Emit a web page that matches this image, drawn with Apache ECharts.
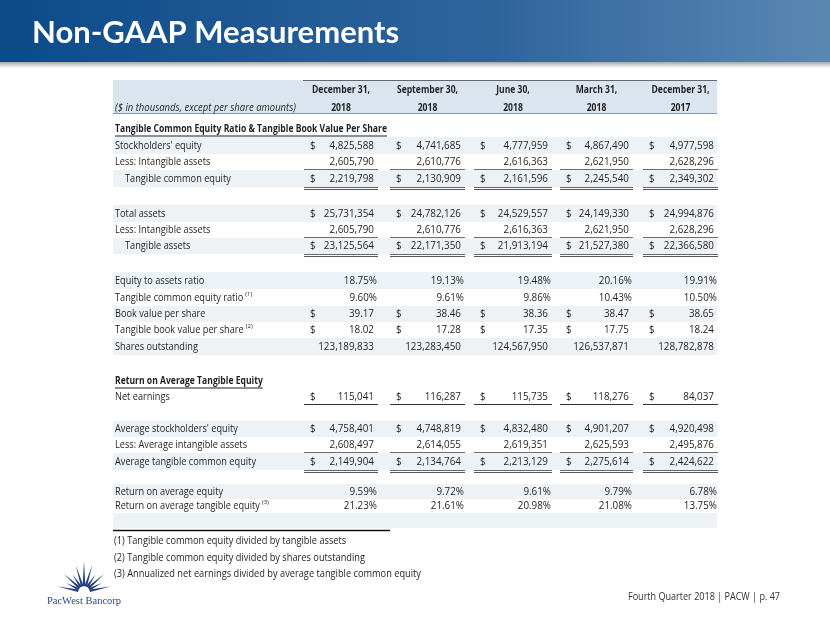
<!DOCTYPE html>
<html><head><meta charset="utf-8">
<script src="https://cdn.jsdelivr.net/npm/echarts@6/dist/echarts.min.js"></script>
<style>html,body{margin:0;padding:0;background:#fff}#c{width:830px;height:623px}</style>
</head><body><div id="c"></div>
<script>
// ---------------- DATA ----------------
const periods = ['December 31,', 'September 30,', 'June 30,', 'March 31,', 'December 31,'];
const years = ['2018', '2018', '2018', '2018', '2017'];
const stockholdersEquity = [4825588, 4741685, 4777959, 4867490, 4977598];
const intangibleAssets = [2605790, 2610776, 2616363, 2621950, 2628296];
const tangibleCommonEquity = [2219798, 2130909, 2161596, 2245540, 2349302];
const totalAssets = [25731354, 24782126, 24529557, 24149330, 24994876];
const tangibleAssets = [23125564, 22171350, 21913194, 21527380, 22366580];
const equityToAssetsRatio = [18.75, 19.13, 19.48, 20.16, 19.91];
const tangibleCommonEquityRatio = [9.60, 9.61, 9.86, 10.43, 10.50];
const bookValuePerShare = [39.17, 38.46, 38.36, 38.47, 38.65];
const tangibleBookValuePerShare = [18.02, 17.28, 17.35, 17.75, 18.24];
const sharesOutstanding = [123189833, 123283450, 124567950, 126537871, 128782878];
const netEarnings = [115041, 116287, 115735, 118276, 84037];
const avgStockholdersEquity = [4758401, 4748819, 4832480, 4901207, 4920498];
const avgIntangibleAssets = [2608497, 2614055, 2619351, 2625593, 2495876];
const avgTangibleCommonEquity = [2149904, 2134764, 2213129, 2275614, 2424622];
const returnOnAvgEquity = [9.59, 9.72, 9.61, 9.79, 6.78];
const returnOnAvgTangibleEquity = [21.23, 21.61, 20.98, 21.08, 13.75];
const footnotes = [
  '(1) Tangible common equity divided by tangible assets',
  '(2) Tangible common equity divided by shares outstanding',
  '(3) Annualized net earnings divided by average tangible common equity'
];

// ---------------- ROW SPEC ----------------
const rows = [
  {label: 'Tangible Common Equity Ratio & Tangible Book Value Per Share', heading: true},
  {label: "Stockholders' equity", values: stockholdersEquity, fmt: 'int', dollar: true, shade: true},
  {label: 'Less: Intangible assets', values: intangibleAssets, fmt: 'int', line: 'single'},
  {label: 'Tangible common equity', values: tangibleCommonEquity, fmt: 'int', dollar: true, indent: true, shade: true, line: 'double'},
  {blank: true},
  {label: 'Total assets', values: totalAssets, fmt: 'int', dollar: true, shade: true},
  {label: 'Less: Intangible assets', values: intangibleAssets, fmt: 'int', line: 'single'},
  {label: 'Tangible assets', values: tangibleAssets, fmt: 'int', dollar: true, indent: true, shade: true, line: 'double'},
  {blank: true},
  {label: 'Equity to assets ratio', values: equityToAssetsRatio, fmt: 'pct', shade: true},
  {label: 'Tangible common equity ratio', sup: '(1)', values: tangibleCommonEquityRatio, fmt: 'pct'},
  {label: 'Book value per share', values: bookValuePerShare, fmt: 'dec', dollar: true, shade: true},
  {label: 'Tangible book value per share', sup: '(2)', values: tangibleBookValuePerShare, fmt: 'dec', dollar: true},
  {label: 'Shares outstanding', values: sharesOutstanding, fmt: 'int', shade: true},
  {blank: true},
  {label: 'Return on Average Tangible Equity', heading: true},
  {label: 'Net earnings', values: netEarnings, fmt: 'int', dollar: true, line: 'net'},
  {blank: true},
  {label: "Average stockholders' equity", values: avgStockholdersEquity, fmt: 'int', dollar: true, shade: true},
  {label: 'Less: Average intangible assets', values: avgIntangibleAssets, fmt: 'int', line: 'single'},
  {label: 'Average tangible common equity', values: avgTangibleCommonEquity, fmt: 'int', dollar: true, shade: true, line: 'double'},
  {blank: true},
  {label: 'Return on average equity', values: returnOnAvgEquity, fmt: 'pct', shade: true},
  {label: 'Return on average tangible equity', sup: '(3)', values: returnOnAvgTangibleEquity, fmt: 'pct'},
  {blank: true, shade: true}
];

// ---------------- LAYOUT ----------------
const W = 830, H = 623;
const TABLE_LEFT = 113, TABLE_RIGHT = 717;
const colLeft = [304, 390, 474, 560, 643];
const colRight = [378, 465, 552, 633, 718];
const FIRST_ROW_TOP = 121;
const rowHeights = [16,17,16,17,18,17,16,16,18,17,17,16,16,17,18,16,16,16,16,16,17,14,15,14,15];
const rowTop = [];
(function(){ let y = FIRST_ROW_TOP; rowHeights.forEach(h => { rowTop.push(y); y += h; }); })();
const HEADER_TOP = 80, HEADER_BOTTOM = 113;
const FONT = '"Open Sans", Lato, sans-serif';
const TXT = '#1f1f1f';
const SHADE = '#edf2f7';

const measureCtx = document.createElement('canvas').getContext('2d');
function measure(str, fs, weight, style) {
  measureCtx.font = (style || 'normal') + ' ' + (weight || 'normal') + ' ' + fs + 'px ' + FONT;
  return measureCtx.measureText(str).width;
}
// a text class: font size set by glyph height, horizontal scale set by the width the sample spans on the slide
function textClass(fs, sample, target, weight, style) {
  return {fs, weight: weight || 'normal', style: style || 'normal', sx: target / measure(sample, fs, weight, style)};
}
const T_LABEL = textClass(10.4, 'Average tangible common equity', 141);
const T_NUM = textClass(10.4, '4,825,588', 44.5);
const T_HEAD = textClass(10.4, 'Tangible Common Equity Ratio & Tangible Book Value Per Share', 272, 'bold');
const T_COLHEAD = textClass(10.4, 'December 31,', 58, 'bold');
const T_ITALIC = textClass(10.4, '($ in thousands, except per share amounts)', 181, 'normal', 'italic');
const T_NOTE = textClass(10.6, footnotes[2], 307);
const T_FOOT = textClass(10.6, 'Fourth Quarter 2018 | PACW | p. 47', 152);
const T_SUP = {fs: 6, weight: 'normal', style: 'normal', sx: 1};

function txt(x, y, text, cls, align, fill) {
  return {type: 'text', x, y, scaleX: cls.sx, style: {text, fill: fill || TXT, fontFamily: FONT, fontSize: cls.fs,
    fontWeight: cls.weight, fontStyle: cls.style, align: align || 'left', verticalAlign: 'middle'}};
}
function widthOf(text, cls) { return measure(text, cls.fs, cls.weight, cls.style) * cls.sx; }

function fmtInt(n) { return String(n).replace(/\B(?=(\d{3})+(?!\d))/g, ','); }
function fmtVal(v, f) {
  if (f === 'pct') return v.toFixed(2) + '%';
  if (f === 'dec') return v.toFixed(2);
  return fmtInt(v);
}

function renderRow(params, api) {
  const i = api.value(2);
  const r = rows[i];
  const h = rowHeights[i];
  const tl = api.coord([api.value(0), api.value(1)]);
  const br = api.coord([TABLE_RIGHT, api.value(1) + h]);
  const top = tl[1], bottom = br[1], left = tl[0];
  const cy = (top + bottom) / 2 + 0.5;
  const children = [];
  if (r.shade) {
    children.push({type: 'rect', shape: {x: left, y: top, width: br[0] - left, height: bottom - top}, style: {fill: SHADE}});
  }
  if (r.blank) return {type: 'group', children};
  const lx = left + 2 + (r.indent ? 10 : 0);
  const cls = r.heading ? T_HEAD : T_LABEL;
  children.push(txt(lx, cy, r.label, cls));
  const lw = widthOf(r.label, cls);
  if (r.heading) {
    children.push({type: 'line', shape: {x1: lx, y1: cy + 6.5, x2: lx + lw, y2: cy + 6.5}, style: {stroke: TXT, lineWidth: 1}});
  }
  if (r.sup) {
    children.push(txt(lx + lw + 2, cy - 4, r.sup, T_SUP));
  }
  (r.values || []).forEach((v, j) => {
    const cl = api.coord([colLeft[j], 0])[0];
    const cr = api.coord([colRight[j], 0])[0];
    if (r.dollar) children.push(txt(cl + 6, cy, '$', T_NUM));
    children.push(txt(cr - (r.fmt === 'pct' ? 1 : 4), cy, fmtVal(v, r.fmt), T_NUM, 'right'));
    if (r.line === 'single' || r.line === 'net') {
      const y = Math.round(bottom) - 0.5;
      children.push({type: 'line', shape: {x1: cl, y1: y, x2: cr, y2: y}, style: {stroke: r.line === 'net' ? '#333' : '#6e6e6e', lineWidth: 1}});
    } else if (r.line === 'double') {
      const y = Math.round(bottom) + 0.5;
      children.push({type: 'line', shape: {x1: cl, y1: y, x2: cr, y2: y}, style: {stroke: '#666', lineWidth: 1}});
      children.push({type: 'line', shape: {x1: cl, y1: y + 2, x2: cr, y2: y + 2}, style: {stroke: '#555', lineWidth: 1.2}});
    }
  });
  return {type: 'group', children};
}

function renderHeader(params, api) {
  const j = api.value(2);
  const c = api.coord([api.value(0), api.value(1)]);
  const c2 = api.coord([api.value(0), HEADER_BOTTOM]);
  return {type: 'group', children: [
    txt(c[0], c[1] + 10.5, periods[j], T_COLHEAD, 'center'),
    txt(c[0], c2[1] - 5, years[j], T_COLHEAD, 'center')
  ]};
}

// ---------------- LOGO ----------------
function logo() {
  const cx = 84, cy = 592, r0 = 6, w = 13 * Math.PI / 180;
  const rays = [];
  const angles = [12, 27, 42, 57, 73, 90, 107, 123, 138, 153, 168];
  const lens = [27, 20, 27, 21, 28, 31, 28, 21, 27, 20, 27];
  angles.forEach((a, k) => {
    const t = a * Math.PI / 180, L = lens[k];
    rays.push({type: 'polygon', shape: {points: [
      [cx + r0 * Math.cos(t - w), cy - r0 * Math.sin(t - w)],
      [cx + L * Math.cos(t), cy - L * Math.sin(t)],
      [cx + r0 * Math.cos(t + w), cy - r0 * Math.sin(t + w)]
    ]}, style: {fill: '#24407a'}});
  });
  rays.push({type: 'text', x: 84, y: 601, style: {text: 'PacWest Bancorp', fill: '#2b4a82', fontFamily: '"Liberation Serif", serif', fontSize: 10.5, align: 'center', verticalAlign: 'middle'}});
  return rays;
}

const chart = echarts.init(document.getElementById('c'), null, {renderer: 'canvas'});
chart.setOption({
  animation: false,
  backgroundColor: '#ffffff',
  grid: {left: 0, top: 0, right: 0, bottom: 0},
  xAxis: {type: 'value', min: 0, max: W, show: false},
  yAxis: {type: 'value', min: 0, max: H, inverse: true, show: false},
  graphic: [
    {type: 'rect', shape: {x: 0, y: 0, width: W, height: 62}, style: {fill: new echarts.graphic.LinearGradient(0, 0, 1, 0, [{offset: 0, color: '#0c4a8a'}, {offset: 0.6, color: '#30659c'}, {offset: 1, color: '#5a88b3'}])}},
    {type: 'rect', shape: {x: 0, y: 62, width: W, height: 6}, style: {fill: new echarts.graphic.LinearGradient(0, 0, 0, 1, [{offset: 0, color: 'rgba(0,0,0,0.35)'}, {offset: 1, color: 'rgba(0,0,0,0)'}])}},
    {type: 'text', x: 32, y: 33, style: {text: 'Non-GAAP Measurements', fill: '#ffffff', fontFamily: 'Lato, sans-serif', fontSize: 31, fontWeight: 'bold', verticalAlign: 'middle'}},
    // header band
    {type: 'rect', z: -1, shape: {x: TABLE_LEFT, y: HEADER_TOP, width: TABLE_RIGHT - TABLE_LEFT, height: HEADER_BOTTOM - HEADER_TOP}, style: {fill: '#dbe5f0'}},
    {type: 'line', shape: {x1: 303, y1: HEADER_TOP + 0.5, x2: TABLE_RIGHT, y2: HEADER_TOP + 0.5}, style: {stroke: '#666', lineWidth: 1}},
    {type: 'line', shape: {x1: TABLE_LEFT, y1: HEADER_BOTTOM + 0.5, x2: TABLE_RIGHT, y2: HEADER_BOTTOM + 0.5}, style: {stroke: '#8895a2', lineWidth: 1}},
    txt(115, 108, '($ in thousands, except per share amounts)', T_ITALIC),
    // bottom rule and footnotes
    {type: 'line', shape: {x1: TABLE_LEFT, y1: 530.5, x2: 390, y2: 530.5}, style: {stroke: '#111', lineWidth: 1.5}},
    ...footnotes.map((f, k) => txt(114, 541 + k * 16.5, f, T_NOTE)),
    txt(780, 597, 'Fourth Quarter 2018 | PACW | p. 47', T_FOOT, 'right', '#333'),
    ...logo()
  ],
  series: [
    {type: 'custom', name: 'header', renderItem: renderHeader,
     data: periods.map((p, j) => [(colLeft[j] + colRight[j]) / 2, HEADER_TOP, j])},
    {type: 'custom', name: 'table', renderItem: renderRow,
     data: rows.map((r, i) => [TABLE_LEFT, rowTop[i], i])}
  ]
});
</script></body></html>
